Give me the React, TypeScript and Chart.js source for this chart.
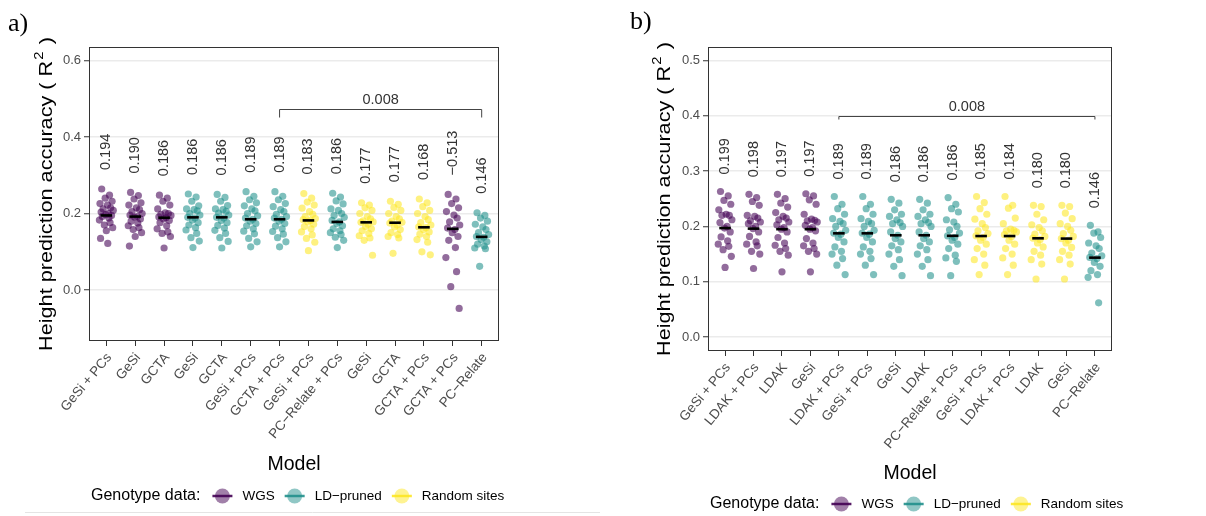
import React, { useEffect, useRef } from "react";
import { Chart, registerables } from "chart.js";

Chart.register(...registerables);

const FONT = '"Liberation Sans", Arial, Helvetica, sans-serif';

// Genotype data groups (viridis colours)
const GROUP_NAMES = ["WGS", "LD\u2212pruned", "Random sites"];
const GROUP_COLORS = ["68,1,84", "33,144,140", "253,231,37"];

// ---------- Panel a ----------
const MODELS_A = [
  "GeSi + PCs", "GeSi", "GCTA", "GeSi", "GCTA", "GeSi + PCs", "GCTA + PCs",
  "GeSi + PCs", "PC\u2212Relate + PCs", "GeSi", "GCTA", "GCTA + PCs", "GCTA + PCs", "PC\u2212Relate",
];
const GROUP_A = [0, 0, 0, 1, 1, 1, 1, 2, 1, 2, 2, 2, 0, 1];
const MEAN_LABELS_A = [
  "0.194", "0.190", "0.186", "0.186", "0.186", "0.189", "0.189",
  "0.183", "0.186", "0.177", "0.177", "0.168", "\u22120.513", "0.146",
];
const MEDIANS_A = [0.195, 0.192, 0.189, 0.19, 0.19, 0.185, 0.185, 0.182, 0.178, 0.177, 0.176, 0.164, 0.16, 0.139];
const R2_A: number[][] = [
  [0.264, 0.248, 0.24, 0.232, 0.226, 0.222, 0.215, 0.212, 0.208, 0.204, 0.2, 0.197, 0.195, 0.192, 0.188, 0.183, 0.176, 0.17, 0.163, 0.155, 0.135, 0.122],
  [0.255, 0.247, 0.238, 0.228, 0.222, 0.215, 0.21, 0.205, 0.2, 0.196, 0.192, 0.19, 0.186, 0.18, 0.175, 0.168, 0.163, 0.158, 0.15, 0.14, 0.115],
  [0.248, 0.24, 0.232, 0.222, 0.212, 0.202, 0.2, 0.198, 0.195, 0.191, 0.189, 0.186, 0.182, 0.176, 0.168, 0.16, 0.152, 0.148, 0.14, 0.11],
  [0.251, 0.243, 0.232, 0.22, 0.212, 0.21, 0.207, 0.2, 0.196, 0.19, 0.188, 0.183, 0.176, 0.17, 0.163, 0.157, 0.148, 0.137, 0.128, 0.111],
  [0.25, 0.242, 0.232, 0.221, 0.212, 0.21, 0.206, 0.201, 0.196, 0.19, 0.188, 0.182, 0.176, 0.169, 0.162, 0.156, 0.148, 0.137, 0.127, 0.11],
  [0.257, 0.245, 0.236, 0.228, 0.22, 0.212, 0.207, 0.2, 0.194, 0.188, 0.185, 0.18, 0.174, 0.168, 0.16, 0.154, 0.147, 0.135, 0.126, 0.113],
  [0.257, 0.245, 0.236, 0.226, 0.218, 0.21, 0.205, 0.198, 0.192, 0.188, 0.185, 0.18, 0.174, 0.167, 0.16, 0.153, 0.146, 0.137, 0.126, 0.113],
  [0.252, 0.24, 0.23, 0.222, 0.214, 0.205, 0.198, 0.192, 0.187, 0.184, 0.182, 0.178, 0.172, 0.166, 0.16, 0.152, 0.144, 0.135, 0.125, 0.103],
  [0.253, 0.243, 0.233, 0.225, 0.212, 0.208, 0.2, 0.195, 0.19, 0.182, 0.178, 0.174, 0.168, 0.16, 0.155, 0.15, 0.145, 0.138, 0.13, 0.111],
  [0.228, 0.222, 0.215, 0.208, 0.2, 0.192, 0.186, 0.181, 0.178, 0.177, 0.172, 0.166, 0.16, 0.155, 0.148, 0.142, 0.136, 0.13, 0.091],
  [0.232, 0.224, 0.216, 0.208, 0.2, 0.192, 0.186, 0.18, 0.177, 0.175, 0.17, 0.165, 0.158, 0.15, 0.145, 0.14, 0.136, 0.096],
  [0.238, 0.228, 0.218, 0.208, 0.2, 0.192, 0.184, 0.176, 0.17, 0.165, 0.163, 0.158, 0.152, 0.146, 0.14, 0.132, 0.125, 0.1, 0.092],
  [0.25, 0.238, 0.226, 0.215, 0.205, 0.196, 0.188, 0.178, 0.17, 0.162, 0.158, 0.15, 0.14, 0.13, 0.111, 0.085, 0.048, 0.009, -0.048],
  [0.202, 0.195, 0.188, 0.18, 0.172, 0.165, 0.158, 0.15, 0.145, 0.14, 0.138, 0.132, 0.126, 0.12, 0.115, 0.11, 0.108, 0.062],
];
const Y_TICKS_A = [0, 0.2, 0.4, 0.6];
const BRACKET_A = { from: 7, to: 14, y: 0.474, text: "0.008" };

// ---------- Panel b ----------
const MODELS_B = [
  "GeSi + PCs", "LDAK + PCs", "LDAK", "GeSi", "LDAK + PCs", "GeSi + PCs", "GeSi",
  "LDAK", "PC\u2212Relate + PCs", "GeSi + PCs", "LDAK + PCs", "LDAK", "GeSi", "PC\u2212Relate",
];
const GROUP_B = [0, 0, 0, 0, 1, 1, 1, 1, 1, 2, 2, 2, 2, 1];
const MEAN_LABELS_B = [
  "0.199", "0.198", "0.197", "0.197", "0.189", "0.189", "0.186",
  "0.186", "0.186", "0.185", "0.184", "0.180", "0.180", "0.146",
];
const MEDIANS_B = [0.197, 0.196, 0.195, 0.195, 0.1875, 0.1875, 0.184, 0.184, 0.183, 0.1826, 0.1826, 0.1785, 0.178, 0.1436];
const R2_B: number[][] = [
  [0.263, 0.255, 0.247, 0.24, 0.23, 0.222, 0.22, 0.22, 0.212, 0.207, 0.2, 0.197, 0.19, 0.181, 0.174, 0.168, 0.164, 0.158, 0.146, 0.126],
  [0.258, 0.252, 0.245, 0.238, 0.22, 0.218, 0.215, 0.21, 0.208, 0.205, 0.2, 0.196, 0.19, 0.182, 0.172, 0.168, 0.165, 0.155, 0.15, 0.124],
  [0.258, 0.25, 0.242, 0.235, 0.225, 0.218, 0.215, 0.212, 0.208, 0.203, 0.198, 0.195, 0.19, 0.18, 0.17, 0.166, 0.16, 0.155, 0.148, 0.118],
  [0.259, 0.255, 0.248, 0.24, 0.222, 0.213, 0.211, 0.21, 0.208, 0.202, 0.198, 0.195, 0.192, 0.178, 0.17, 0.165, 0.16, 0.155, 0.15, 0.118],
  [0.254, 0.24, 0.232, 0.222, 0.214, 0.209, 0.205, 0.2, 0.193, 0.188, 0.186, 0.18, 0.172, 0.163, 0.155, 0.15, 0.142, 0.13, 0.113],
  [0.254, 0.24, 0.232, 0.222, 0.214, 0.209, 0.205, 0.2, 0.193, 0.188, 0.186, 0.18, 0.172, 0.163, 0.155, 0.15, 0.142, 0.13, 0.113],
  [0.249, 0.242, 0.23, 0.222, 0.218, 0.212, 0.207, 0.205, 0.2, 0.19, 0.184, 0.178, 0.172, 0.165, 0.158, 0.15, 0.14, 0.128, 0.111],
  [0.249, 0.242, 0.23, 0.222, 0.218, 0.212, 0.207, 0.205, 0.2, 0.19, 0.184, 0.178, 0.172, 0.165, 0.158, 0.15, 0.14, 0.128, 0.111],
  [0.252, 0.24, 0.232, 0.226, 0.212, 0.208, 0.2, 0.194, 0.188, 0.183, 0.18, 0.175, 0.168, 0.16, 0.148, 0.143, 0.137, 0.111],
  [0.254, 0.243, 0.232, 0.222, 0.213, 0.205, 0.198, 0.192, 0.187, 0.183, 0.18, 0.175, 0.168, 0.16, 0.15, 0.14, 0.13, 0.113],
  [0.254, 0.238, 0.233, 0.215, 0.205, 0.195, 0.193, 0.192, 0.19, 0.185, 0.182, 0.175, 0.168, 0.16, 0.15, 0.143, 0.13, 0.113],
  [0.238, 0.236, 0.222, 0.212, 0.203, 0.198, 0.192, 0.186, 0.182, 0.179, 0.176, 0.17, 0.163, 0.155, 0.148, 0.14, 0.132, 0.105],
  [0.238, 0.236, 0.224, 0.214, 0.205, 0.2, 0.193, 0.187, 0.182, 0.178, 0.175, 0.17, 0.162, 0.155, 0.148, 0.14, 0.132, 0.105],
  [0.202, 0.19, 0.188, 0.18, 0.17, 0.165, 0.16, 0.152, 0.147, 0.144, 0.142, 0.135, 0.128, 0.12, 0.113, 0.108, 0.062],
];
const Y_TICKS_B = [0, 0.1, 0.2, 0.3, 0.4, 0.5];
const BRACKET_B = { from: 5, to: 14, y: 0.4, text: "0.008" };

// horizontal spread pattern used to separate overlapping points within a column
const SPREAD = [
  -0.16, 0.11, -0.04, 0.2, -0.22, 0.04, 0.15, -0.11, 0.24, -0.18, 0.07,
  -0.02, 0.18, -0.14, 0.09, -0.24, 0.13, -0.07, 0.22, 0.0, -0.2, 0.05,
];

type Bracket = { from: number; to: number; y: number; text: string };

type PanelProps = {
  tag: string;
  left: number;
  width: number;
  height: number;
  area: { left: number; right: number; top: number; bottom: number };
  models: string[];
  groups: number[];
  values: number[][];
  medians: number[];
  meanLabels: string[];
  yMin: number;
  yMax: number;
  yTicks: number[];
  bracket: Bracket;
  tipLength: number;
  labelGap: number;
  tagPos: [number, number];
  yTitleX: number;
  modelY: number;
  legendPos: [number, number];
  footerLine: boolean;
};

function Panel(p: PanelProps) {
  const ref = useRef<HTMLCanvasElement | null>(null);

  useEffect(() => {
    const canvas = ref.current;
    if (!canvas) return;

    const pointSets = GROUP_NAMES.map((name, g) => ({
      type: "scatter" as const,
      label: name,
      data: p.values.flatMap((col, i) =>
        p.groups[i] === g ? col.map((v, k) => ({ x: i + 1 + SPREAD[k % SPREAD.length], y: v })) : []
      ),
      backgroundColor: `rgba(${GROUP_COLORS[g]},0.58)`,
      borderWidth: 0,
      pointRadius: 3.6,
      order: 2,
    }));

    const medianSet = {
      type: "scatter" as const,
      label: "median",
      data: p.medians.map((m, i) => ({ x: i + 1, y: m })),
      pointStyle: "line" as const,
      pointRadius: 5.8,
      borderColor: "#000",
      borderWidth: 2.6,
      order: 1,
    };

    const overlay = {
      id: "overlay",
      afterDraw(chart: any) {
        const { ctx, chartArea: ca } = chart;
        const xs = chart.scales.x;
        const ys = chart.scales.y;
        ctx.save();

        // panel border
        ctx.strokeStyle = "#333";
        ctx.lineWidth = 1;
        ctx.strokeRect(ca.left + 0.5, ca.top + 0.5, ca.right - ca.left - 1, ca.bottom - ca.top - 1);

        // mean accuracy labels above each column
        ctx.font = `14.5px ${FONT}`;
        ctx.fillStyle = "#333";
        p.values.forEach((col, i) => {
          const top = ys.getPixelForValue(Math.max(...col));
          ctx.save();
          ctx.translate(xs.getPixelForValue(i + 1), top - p.labelGap);
          ctx.rotate(-Math.PI / 2);
          ctx.textAlign = "left";
          ctx.textBaseline = "middle";
          ctx.fillText(p.meanLabels[i], 0, 0);
          ctx.restore();
        });

        // significance bracket
        const bx1 = xs.getPixelForValue(p.bracket.from);
        const bx2 = xs.getPixelForValue(p.bracket.to);
        const by = Math.round(ys.getPixelForValue(p.bracket.y)) + 0.5;
        ctx.strokeStyle = "#444";
        ctx.lineWidth = 1;
        ctx.beginPath();
        ctx.moveTo(bx1, by + p.tipLength);
        ctx.lineTo(bx1, by);
        ctx.lineTo(bx2, by);
        ctx.lineTo(bx2, by + p.tipLength);
        ctx.stroke();
        ctx.textAlign = "center";
        ctx.textBaseline = "bottom";
        ctx.fillText(p.bracket.text, (bx1 + bx2) / 2, by - 2);

        // y axis title with superscript
        const big = `19px ${FONT}`;
        const small = `13px ${FONT}`;
        const partA = "Height prediction accuracy ( R";
        const partB = "2";
        const partC = " )";
        ctx.font = big;
        const wA = ctx.measureText(partA).width;
        const wC = ctx.measureText(partC).width;
        ctx.font = small;
        const wB = ctx.measureText(partB).width;
        const total = wA + wB + wC + 2;
        ctx.save();
        ctx.translate(p.yTitleX, (ca.top + ca.bottom) / 2);
        ctx.rotate(-Math.PI / 2);
        ctx.scale(1.14, 1);
        ctx.fillStyle = "#000";
        ctx.textAlign = "left";
        ctx.textBaseline = "middle";
        let cx = -total / 2;
        ctx.font = big;
        ctx.fillText(partA, cx, 0);
        cx += wA + 1;
        ctx.font = small;
        ctx.fillText(partB, cx, -8);
        cx += wB + 1;
        ctx.font = big;
        ctx.fillText(partC, cx, 0);
        ctx.restore();

        // x axis title
        ctx.fillStyle = "#000";
        ctx.font = `19.5px ${FONT}`;
        ctx.textAlign = "center";
        ctx.textBaseline = "middle";
        ctx.fillText("Model", (ca.left + ca.right) / 2, p.modelY);

        // legend
        let lx = p.legendPos[0];
        const ly = p.legendPos[1];
        ctx.textAlign = "left";
        ctx.font = `16px ${FONT}`;
        ctx.fillText("Genotype data:", lx, ly);
        lx += ctx.measureText("Genotype data:").width + 12;
        ctx.font = `13.5px ${FONT}`;
        GROUP_NAMES.forEach((name, g) => {
          const sx = lx + 10;
          ctx.fillStyle = `rgba(${GROUP_COLORS[g]},0.5)`;
          ctx.beginPath();
          ctx.arc(sx, ly, 7.5, 0, Math.PI * 2);
          ctx.fill();
          ctx.strokeStyle = `rgba(${GROUP_COLORS[g]},0.9)`;
          ctx.lineWidth = 2.5;
          ctx.beginPath();
          ctx.moveTo(lx, ly);
          ctx.lineTo(lx + 20, ly);
          ctx.stroke();
          lx += 30;
          ctx.fillStyle = "#000";
          ctx.fillText(name, lx, ly);
          lx += ctx.measureText(name).width + 10;
        });

        // panel tag
        ctx.font = `26px "Liberation Serif", "Times New Roman", serif`;
        ctx.textBaseline = "alphabetic";
        ctx.fillStyle = "#000";
        ctx.fillText(p.tag, p.tagPos[0], p.tagPos[1]);

        if (p.footerLine) {
          ctx.strokeStyle = "#e4e4e4";
          ctx.lineWidth = 1;
          ctx.beginPath();
          ctx.moveTo(25, p.height - 3.5);
          ctx.lineTo(p.width, p.height - 3.5);
          ctx.stroke();
        }
        ctx.restore();
      },
    };

    const chart = new Chart(canvas, {
      type: "scatter",
      data: { datasets: [...pointSets, medianSet] as any },
      options: {
        animation: false,
        responsive: false,
        devicePixelRatio: 1,
        events: [],
        layout: {
          padding: { top: p.area.top, right: p.width - p.area.right, left: 0, bottom: 0 },
        },
        plugins: { legend: { display: false }, tooltip: { enabled: false } },
        scales: {
          x: {
            type: "linear",
            min: 0.4,
            max: p.models.length + 0.6,
            afterBuildTicks: (s: any) => {
              s.ticks = p.models.map((_, i) => ({ value: i + 1 }));
            },
            afterFit: (s: any) => {
              s.height = p.height - p.area.bottom;
            },
            ticks: {
              autoSkip: false,
              minRotation: 50,
              maxRotation: 50,
              padding: 4,
              labelOffset: 3,
              color: "#4d4d4d",
              font: { family: FONT, size: 13.5 },
              callback: (v: any) => p.models[Math.round(Number(v)) - 1] ?? "",
            },
            grid: { drawOnChartArea: false, tickLength: 5, tickColor: "#333", tickWidth: 1 },
            border: { display: false },
          },
          y: {
            type: "linear",
            min: p.yMin,
            max: p.yMax,
            afterBuildTicks: (s: any) => {
              s.ticks = p.yTicks.map((v) => ({ value: v }));
            },
            afterFit: (s: any) => {
              s.width = p.area.left;
            },
            ticks: {
              padding: 3,
              color: "#4d4d4d",
              font: { family: FONT, size: 13 },
              callback: (v: any) => Number(v).toFixed(1),
            },
            grid: { color: "#ebebeb", lineWidth: 1.5, tickLength: 5, tickColor: "#333", tickWidth: 1 },
            border: { display: false },
          },
        },
      },
      plugins: [overlay],
    });
    return () => chart.destroy();
  }, []);

  return (
    <canvas
      ref={ref}
      width={p.width}
      height={p.height}
      style={{ position: "absolute", left: p.left, top: 0, width: p.width, height: p.height }}
    />
  );
}

export default function App() {
  return (
    <div style={{ position: "absolute", left: 0, top: 0, width: 1206, height: 516, background: "#fff" }}>
      <Panel
        tag="a)"
        left={0}
        width={600}
        height={516}
        area={{ left: 89, right: 499, top: 47, bottom: 341 }}
        models={MODELS_A}
        groups={GROUP_A}
        values={R2_A}
        medians={MEDIANS_A}
        meanLabels={MEAN_LABELS_A}
        yMin={-0.133}
        yMax={0.635}
        yTicks={Y_TICKS_A}
        bracket={BRACKET_A}
        tipLength={8}
        labelGap={19}
        tagPos={[8, 31]}
        yTitleX={47}
        modelY={465}
        legendPos={[91, 496]}
        footerLine={true}
      />
      <Panel
        tag="b)"
        left={600}
        width={606}
        height={516}
        area={{ left: 108, right: 512, top: 47, bottom: 351 }}
        models={MODELS_B}
        groups={GROUP_B}
        values={R2_B}
        medians={MEDIANS_B}
        meanLabels={MEAN_LABELS_B}
        yMin={-0.025}
        yMax={0.524}
        yTicks={Y_TICKS_B}
        bracket={BRACKET_B}
        tipLength={3}
        labelGap={17}
        tagPos={[30, 29]}
        yTitleX={65}
        modelY={474}
        legendPos={[110, 504]}
        footerLine={false}
      />
    </div>
  );
}
